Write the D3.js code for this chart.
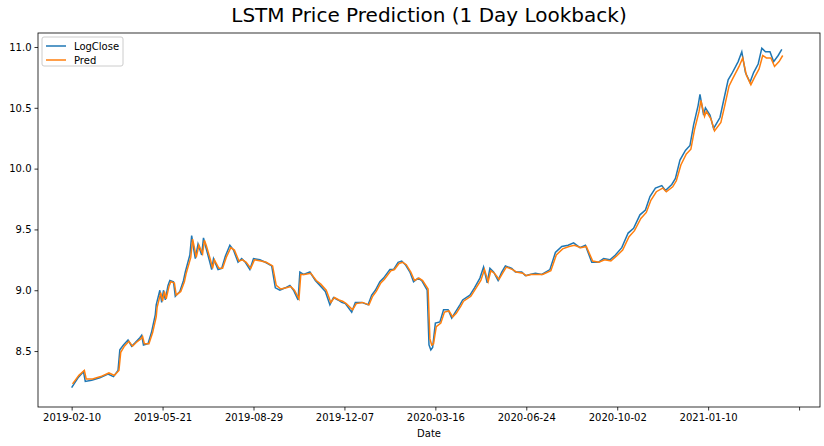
<!DOCTYPE html>
<html>
<head>
<meta charset="utf-8">
<script src="https://d3js.org/d3.v7.min.js"></script>
<style>
  body { margin: 0; background: #fff; }
  text { font-family: "DejaVu Sans", sans-serif; }
</style>
</head>
<body>
<svg id="chart" width="824" height="446"></svg>
<script>
// days since 2019-02-10
var dayOffset = [0,7,13,15,22,31,40,46,51,53,57,62,66,70,75,77,79,84,88,92,93,97,99,101,103,106,108,112,114,119,123,125,130,132,134,136,139,143,145,147,152,154,156,161,165,169,174,178,183,187,191,196,200,207,213,220,224,229,235,240,244,249,251,255,262,268,273,279,284,288,293,297,301,308,312,319,326,330,334,339,343,350,354,359,363,367,372,376,381,385,391,393,395,397,400,405,409,414,418,422,427,430,438,443,449,453,457,460,464,469,473,477,484,488,495,499,504,510,517,526,532,539,546,552,559,565,572,579,585,592,598,605,612,618,625,631,636,642,649,653,660,664,669,675,680,684,689,691,695,697,702,706,713,717,722,726,733,737,741,746,750,755,759,763,768,772,777,781];
var logClose = [8.20,8.28,8.33,8.25,8.26,8.28,8.31,8.29,8.34,8.51,8.55,8.59,8.54,8.57,8.61,8.63,8.55,8.56,8.66,8.80,8.88,9.00,8.90,9.00,8.92,9.04,9.08,9.07,8.95,8.99,9.08,9.15,9.29,9.45,9.35,9.26,9.38,9.29,9.43,9.37,9.23,9.17,9.26,9.17,9.18,9.28,9.37,9.33,9.23,9.26,9.23,9.17,9.26,9.25,9.23,9.20,9.02,9.00,9.02,9.04,9.00,8.92,9.15,9.13,9.15,9.08,9.04,8.99,8.88,8.94,8.92,8.90,8.89,8.82,8.90,8.90,8.88,8.96,9.00,9.07,9.10,9.17,9.17,9.23,9.24,9.21,9.15,9.07,9.10,9.08,9.00,8.55,8.51,8.53,8.73,8.74,8.84,8.84,8.77,8.82,8.88,8.92,8.96,9.02,9.10,9.19,9.06,9.18,9.15,9.08,9.15,9.20,9.18,9.15,9.15,9.12,9.13,9.14,9.13,9.17,9.31,9.36,9.37,9.39,9.35,9.37,9.23,9.23,9.26,9.25,9.29,9.35,9.47,9.51,9.62,9.66,9.77,9.84,9.86,9.82,9.87,9.92,10.07,10.15,10.19,10.36,10.52,10.61,10.44,10.50,10.44,10.33,10.42,10.56,10.73,10.78,10.88,10.96,10.79,10.71,10.79,10.86,10.99,10.96,10.96,10.88,10.93,10.98];
var pred = [8.23,8.30,8.34,8.27,8.27,8.29,8.32,8.30,8.34,8.49,8.54,8.58,8.54,8.57,8.60,8.62,8.56,8.56,8.65,8.78,8.86,8.98,8.91,8.99,8.93,9.03,9.07,9.06,8.96,8.99,9.07,9.14,9.27,9.42,9.35,9.27,9.37,9.30,9.41,9.37,9.24,9.18,9.25,9.18,9.18,9.27,9.35,9.33,9.24,9.25,9.23,9.18,9.25,9.24,9.23,9.20,9.04,9.01,9.02,9.03,9.00,8.93,9.13,9.13,9.14,9.08,9.05,9.00,8.90,8.94,8.92,8.91,8.89,8.84,8.89,8.90,8.88,8.95,8.99,9.06,9.09,9.16,9.17,9.22,9.23,9.21,9.15,9.08,9.10,9.08,9.01,8.60,8.55,8.56,8.70,8.73,8.82,8.83,8.78,8.81,8.87,8.91,8.95,9.01,9.08,9.17,9.07,9.16,9.14,9.09,9.14,9.19,9.17,9.15,9.14,9.12,9.13,9.13,9.13,9.16,9.29,9.34,9.36,9.37,9.35,9.36,9.24,9.23,9.25,9.24,9.28,9.33,9.44,9.49,9.59,9.64,9.74,9.81,9.84,9.81,9.85,9.90,10.03,10.12,10.16,10.32,10.47,10.56,10.43,10.47,10.41,10.31,10.38,10.51,10.68,10.74,10.84,10.91,10.77,10.69,10.75,10.82,10.93,10.91,10.91,10.84,10.88,10.93];
var tickDays = [0,100,200,300,400,500,600,700,800];
var tickLabels = ["2019-02-10","2019-05-21","2019-08-29","2019-12-07","2020-03-16","2020-06-24","2020-10-02","2021-01-10",""];
var yTicks = [8.5,9.0,9.5,10.0,10.5,11.0];

var svg = d3.select("#chart");
var plotL = 38, plotR = 820, plotT = 33, plotB = 407;

var x = d3.scaleLinear().domain([-37, 823]).range([plotL, plotR]);
var y = d3.scaleLinear().domain([8.04, 11.115]).range([plotB, plotT]);

svg.append("text").attr("x", (plotL + plotR) / 2).attr("y", 22)
  .attr("text-anchor", "middle").style("font-size", "20px").text("LSTM Price Prediction (1 Day Lookback)");

var xAxis = svg.append("g").attr("transform", "translate(0," + plotB + ")")
  .call(d3.axisBottom(x).tickValues(tickDays).tickSize(3.5).tickPadding(3)
    .tickFormat(function (d, i) { return tickLabels[i]; }));
var yAxis = svg.append("g").attr("transform", "translate(" + plotL + ",0)")
  .call(d3.axisLeft(y).tickValues(yTicks).tickSize(3.5).tickPadding(3).tickFormat(d3.format(".1f")));
[xAxis, yAxis].forEach(function (g) {
  g.select(".domain").remove();
  g.selectAll("text").style("font-size", "10px").attr("fill", "#000").style("font-family", "DejaVu Sans");
  g.selectAll("line").attr("stroke", "#000").attr("stroke-width", 0.8);
});

svg.append("text").attr("x", (plotL + plotR) / 2).attr("y", 437)
  .attr("text-anchor", "middle").style("font-size", "10px").text("Date");

var line = d3.line().x(function (d) { return x(d[0]); }).y(function (d) { return y(d[1]); });
var closeData = dayOffset.map(function (d, i) { return [d, logClose[i]]; });
var predData = dayOffset.map(function (d, i) { return [d + 1, pred[i]]; });

svg.append("path").datum(closeData).attr("d", line).attr("fill", "none")
  .attr("stroke", "#1f77b4").attr("stroke-width", 1.5);
svg.append("path").datum(predData).attr("d", line).attr("fill", "none")
  .attr("stroke", "#ff7f0e").attr("stroke-width", 1.5);

svg.append("rect").attr("x", plotL).attr("y", plotT).attr("width", plotR - plotL).attr("height", plotB - plotT)
  .attr("fill", "none").attr("stroke", "#000").attr("stroke-width", 0.8);

// legend
var lg = svg.append("g").attr("transform", "translate(42,37)");
lg.append("rect").attr("width", 81).attr("height", 29).attr("rx", 2)
  .attr("fill", "#fff").attr("fill-opacity", 0.8).attr("stroke", "#ccc");
[["LogClose", "#1f77b4"], ["Pred", "#ff7f0e"]].forEach(function (s, i) {
  var yy = 9 + i * 14;
  lg.append("line").attr("x1", 4).attr("x2", 24).attr("y1", yy).attr("y2", yy)
    .attr("stroke", s[1]).attr("stroke-width", 1.5);
  lg.append("text").attr("x", 32).attr("y", yy + 3.5).style("font-size", "10px").text(s[0]);
});
</script>
</body>
</html>
